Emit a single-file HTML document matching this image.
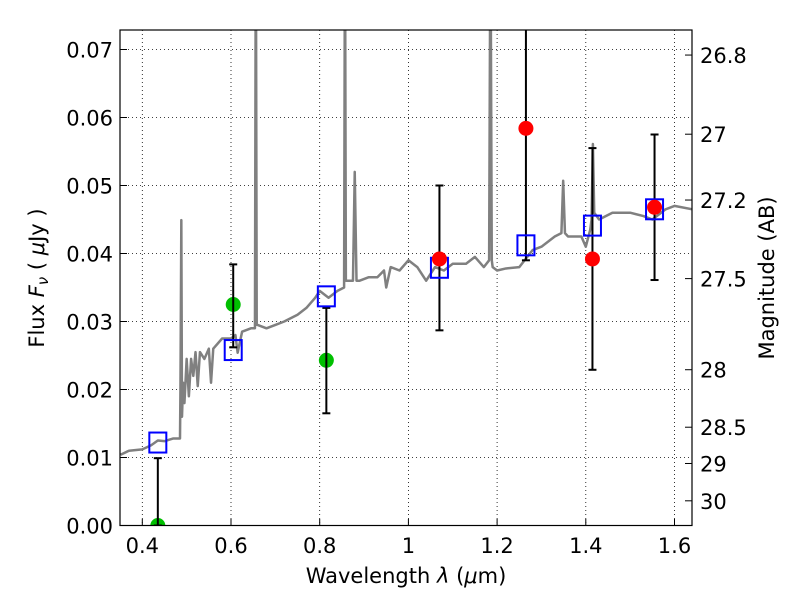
<!DOCTYPE html>
<html><head><meta charset="utf-8"><style>
body{margin:0;background:#fff;}
svg text{font-family:"DejaVu Sans","Liberation Sans",sans-serif;fill:#000;}
</style></head><body>
<svg id="chart" width="800" height="600" xmlns="http://www.w3.org/2000/svg">
<rect width="800" height="600" fill="#fff"/>
<defs><clipPath id="clip"><rect x="120" y="30" width="572" height="495.5"/></clipPath></defs>
<g id="grid"></g>
<g id="plot" clip-path="url(#clip)"></g>
<rect x="120" y="30" width="572" height="495.5" fill="none" stroke="#000" stroke-width="1.2"/>
<g id="axes"></g>
<text x="406" y="583" font-size="21" text-anchor="middle">Wavelength  <tspan font-style="italic">λ</tspan> (<tspan font-style="italic">μ</tspan>m)</text>
<text transform="translate(44,278) rotate(-90)" font-size="21" text-anchor="middle">Flux  <tspan font-style="italic">F<tspan font-size="15" dy="4">ν</tspan></tspan><tspan dy="-4">  (  </tspan><tspan font-style="italic">μ</tspan>Jy )</text>
<text transform="translate(774,278) rotate(-90)" font-size="21" text-anchor="middle">Magnitude (AB)</text>
</svg>
<script>
const xTicks=[0.4,0.6,0.8,1.0,1.2,1.4,1.6];
const xTickLabels=["0.4","0.6","0.8","1","1.2","1.4","1.6"];
const yTicks=[0,0.01,0.02,0.03,0.04,0.05,0.06,0.07];
const yTickLabels=["0.00","0.01","0.02","0.03","0.04","0.05","0.06","0.07"];
const magTicks=[26.8,27,27.2,27.5,28,28.5,29,30];
const magTickLabels=["26.8","27","27.2","27.5","28","28.5","29","30"];
const specLam=[0.351,0.37,0.40,0.42,0.435,0.45,0.47,0.485,0.486,0.488,0.4895,0.492,0.495,0.50,0.505,0.51,0.515,0.52,0.525,0.53,0.54,0.55,0.555,0.56,0.58,0.60,0.61,0.615,0.625,0.645,0.654,0.656,0.658,0.66,0.68,0.70,0.72,0.75,0.77,0.79,0.80,0.82,0.84,0.855,0.857,0.859,0.865,0.875,0.879,0.883,0.89,0.91,0.93,0.945,0.95,0.96,0.98,1.0,1.02,1.04,1.06,1.08,1.1,1.13,1.15,1.17,1.182,1.185,1.188,1.19,1.2,1.22,1.25,1.28,1.3,1.33,1.345,1.349,1.353,1.36,1.39,1.40,1.41,1.413,1.416,1.419,1.43,1.46,1.5,1.53,1.55,1.58,1.6,1.64];
const specFlux=[0.0104,0.011,0.0112,0.0118,0.0125,0.0124,0.0128,0.0128,0.02,0.0449,0.016,0.021,0.018,0.0245,0.019,0.0245,0.022,0.0255,0.0205,0.0255,0.0245,0.026,0.021,0.026,0.0275,0.0275,0.028,0.0254,0.0285,0.029,0.029,0.09,0.0295,0.0295,0.029,0.0295,0.03,0.031,0.032,0.0335,0.0345,0.0335,0.0345,0.035,0.09,0.036,0.036,0.036,0.052,0.036,0.036,0.0365,0.0365,0.0375,0.035,0.038,0.0375,0.039,0.038,0.036,0.038,0.0375,0.0385,0.0385,0.0395,0.038,0.039,0.09,0.039,0.038,0.0375,0.0378,0.038,0.0405,0.041,0.0425,0.043,0.0507,0.043,0.0425,0.0425,0.041,0.0435,0.045,0.0561,0.046,0.045,0.046,0.046,0.0455,0.045,0.0465,0.047,0.0465];
const modelLam=[0.435,0.605,0.815,1.07,1.265,1.415,1.555];
const modelFlux=[0.0122,0.0258,0.0337,0.0379,0.0412,0.0441,0.0465];
const greenLam=[0.435,0.605,0.815];
const greenFlux=[0,0.0325,0.0243];
const greenLo=[0,0.0262,0.0165];
const greenHi=[0.0099,0.0384,0.0320];
const redLam=[1.07,1.265,1.415,1.555];
const redFlux=[0.0392,0.0584,0.0392,0.0468];
const redLo=[0.0287,0.039,0.0229,0.0361];
const redHi=[0.0500,0.09,0.0555,0.0575];

const X=l=>142.3+(l-0.4)*443.5;
const Y=f=>525.5-f*6800;
const M=m=>Y(Math.pow(10,(23.9-m)/2.5));
const NS="http://www.w3.org/2000/svg";
function mk(tag,attrs,parent){const e=document.createElementNS(NS,tag);for(const k in attrs)e.setAttribute(k,attrs[k]);parent.appendChild(e);return e;}
const grid=document.getElementById('grid'),plot=document.getElementById('plot'),axes=document.getElementById('axes');
xTicks.forEach((t,i)=>{const x=X(t);
 const g=mk('line',{x1:x,x2:x,y1:30,y2:525.5,stroke:'#000','stroke-width':0.8,'stroke-dasharray':'1,3'},grid);
 
 
 const tk=mk('line',{x1:x,x2:x,y1:525.5,y2:519,stroke:'#000'},axes);
 
 
 const tx=mk('text',{x:x,y:553,'font-size':21,'text-anchor':'middle'},axes);tx.textContent=xTickLabels[i];
 
 
});
yTicks.forEach((t,i)=>{const y=Y(t);
 if(t>0){const g=mk('line',{x1:120,x2:692,y1:y,y2:y,stroke:'#000','stroke-width':0.8,'stroke-dasharray':'1,3'},grid);
 
 }
 const tk=mk('line',{x1:120,x2:127,y1:y,y2:y,stroke:'#000'},axes);
 
 
 const tx=mk('text',{x:113,y:y+8,'font-size':21,'text-anchor':'end'},axes);tx.textContent=yTickLabels[i];
 
 
});
magTicks.forEach((m,i)=>{const y=M(m);
 const tk=mk('line',{x1:692,x2:685,y1:y,y2:y,stroke:'#000'},axes);
 
 
 const tx=mk('text',{x:700,y:y+8,'font-size':21},axes);tx.textContent=magTickLabels[i];
 
 
});
const sp=mk('polyline',{points:specLam.map((l,i)=>X(l)+','+Y(specFlux[i])).join(' '),fill:'none',stroke:'#808080','stroke-width':2.5,'stroke-linejoin':'round'},plot);


function errbar(l,lo,hi,name){const x=X(l);
 const g=mk('g',{stroke:'#000','stroke-width':2},plot);
 
 
 mk('line',{x1:x,x2:x,y1:Y(lo),y2:Y(hi)},g);
 mk('line',{x1:x-4,x2:x+4,y1:Y(lo),y2:Y(lo)},g);
 mk('line',{x1:x-4,x2:x+4,y1:Y(hi),y2:Y(hi)},g);}
greenLam.forEach((l,i)=>{const c=mk('circle',{cx:X(l),cy:Y(greenFlux[i]),r:7.5,fill:'#00bf00'},plot);
 
 });
greenLam.forEach((l,i)=>errbar(l,greenLo[i],greenHi[i],'green-error-bar'));
redLam.forEach((l,i)=>errbar(l,redLo[i],redHi[i],'red-error-bar'));
modelLam.forEach((l,i)=>{const r=mk('rect',{x:X(l)-8.5,y:Y(modelFlux[i])-10,width:17,height:20,fill:'none',stroke:'#0000ff','stroke-width':2},plot);
 
 });
redLam.forEach((l,i)=>{const c=mk('circle',{cx:X(l),cy:Y(redFlux[i]),r:7.5,fill:'#ff0000'},plot);
 
 });
</script>
</body></html>
